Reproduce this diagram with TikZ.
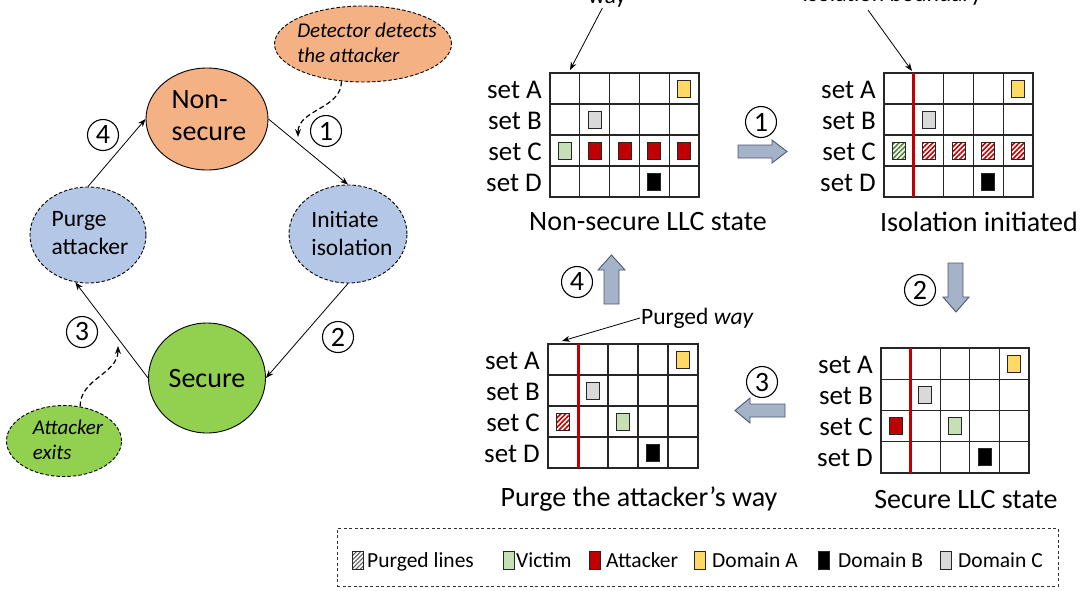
\documentclass[tikz,border=0pt]{standalone}
\usepackage{fontspec}
\setmainfont{Carlito}
\usetikzlibrary{shapes.geometric,arrows.meta,patterns.meta,calc}
\definecolor{nsorange}{HTML}{F4B183}
\definecolor{isoblue}{HTML}{B4C7E7}
\definecolor{secgreen}{HTML}{92D050}
\definecolor{victim}{HTML}{C5E0B4}
\definecolor{attack}{HTML}{C00000}
\definecolor{domA}{HTML}{FFD966}
\definecolor{domC}{HTML}{D9D9D9}
\definecolor{barrowfill}{HTML}{A5B3C9}
\definecolor{barrowline}{HTML}{4A5A75}
\definecolor{hatchgreen}{HTML}{548235}
\newcommand{\llcgrid}[5]{%
  \begin{scope}[shift={(#2,#3)}]
    \draw[gridline] (0,0) rectangle ({5*#4},{4*#5});
    \foreach \ci in {1,...,4} {\draw[gridline] ({\ci*#4},0) -- ({\ci*#4},{4*#5});}
    \foreach \ri in {1,2,3} {\draw[gridline] (0,{\ri*#5}) -- ({5*#4},{\ri*#5});}
    \foreach \sn [count=\ri] in {A,B,C,D} {\node[setlbl] (#1-set\sn) at (-8,{(\ri-0.5)*#5+1}) {set \sn};}
    \foreach \ci in {1,...,5} {\foreach \ri in {1,...,4} {\coordinate (#1-\ci-\ri) at ({(\ci-0.5)*#4},{(\ri-0.5)*#5});}}
    \coordinate (#1-rt) at (#4,0);
    \coordinate (#1-rb) at (#4,{4*#5});
  \end{scope}}
\begin{document}
\begin{tikzpicture}[x=1pt,y=-1pt,
  gridline/.style={draw=black!85,line width=1.1pt},
  setlbl/.style={anchor=east,inner sep=0pt,font=\fontsize{27}{30}\selectfont},
  captxt/.style={anchor=base,inner sep=0pt,font=\fontsize{28}{32}\selectfont},
  ann/.style={inner sep=1pt,font=\fontsize{23.5}{27}\selectfont},
  state/.style={ellipse,draw=black,line width=0.9pt,inner sep=0pt},
  dstate/.style={state,dash pattern=on 3.5pt off 2pt},
  bigtxt/.style={align=left,inner sep=0pt,font=\fontsize{28}{32}\selectfont},
  midtxt/.style={align=left,inner sep=0pt,font=\fontsize{23.5}{28}\selectfont},
  smalltxt/.style={align=left,inner sep=0pt,font=\fontsize{21}{25}\selectfont\itshape},
  num/.style={circle,draw=black,line width=1.1pt,minimum size=31pt,inner sep=0pt,font=\fontsize{28}{28}\selectfont},
  conn/.style={-{Stealth[length=8pt,width=6pt]},line width=0.8pt},
  hint/.style={conn,line width=1.2pt,dash pattern=on 5pt off 3pt},
  blk/.style={draw=black!85,line width=0.9pt,minimum width=13pt,minimum height=17pt,inner sep=0pt},
  blkV/.style={blk,fill=victim},
  blkX/.style={blk,fill=attack},
  blkA/.style={blk,fill=domA},
  blkB/.style={blk,fill=black},
  blkC/.style={blk,fill=domC},
  blkXh/.style={blk,pattern={Lines[angle=45,distance=3.4pt,line width=1.6pt]},pattern color=attack},
  blkVh/.style={blk,pattern={Lines[angle=45,distance=3.4pt,line width=1.6pt]},pattern color=hatchgreen},
  isoline/.style={draw=attack,line width=3pt},
  barrow/.style={fill=barrowfill,draw=barrowline,line width=0.9pt,line join=miter},
  legbox/.style={draw=black!80,dash pattern=on 3pt off 2.5pt,line width=0.8pt,inner sep=0pt},
  legblk/.style={draw=black!85,line width=0.9pt,minimum width=11pt,minimum height=18pt,inner sep=0pt},
  legtxt/.style={anchor=base west,inner sep=0pt,font=\fontsize{21.5}{24}\selectfont}
]
\useasboundingbox (0,0) rectangle (1083,590);
\clip (0,0) rectangle (1083,590);
\fill[white] (0,0) rectangle (1083,590);

% ---------- state machine ----------
\node[state,fill=nsorange,minimum width=122pt,minimum height=102pt] (ns) at (207,119) {};
\node[bigtxt] (ns-t) at (209,116) {Non-\\secure};
\node[dstate,fill=isoblue,minimum width=118pt,minimum height=98pt] (ii) at (348,234) {};
\node[midtxt] (ii-t) at (352,233) {Initiate\\isolation};
\node[dstate,fill=isoblue,minimum width=116pt,minimum height=96pt] (pa) at (88,235) {};
\node[midtxt] (pa-t) at (90,233) {Purge\\attacker};
\node[state,fill=secgreen,minimum width=117pt,minimum height=110pt] (sec) at (207,378) {};
\node[bigtxt] (sec-t) at (207,379) {Secure};
\node[dstate,fill=nsorange,minimum width=177pt,minimum height=76pt] (det) at (363,44) {};
\node[smalltxt] (det-t) at (367,43) {Detector detects\\the attacker};
\node[dstate,fill=secgreen,minimum width=115pt,minimum height=71pt] (ae) at (64,441) {};
\node[smalltxt] (ae-t) at (68,440) {Attacker\\exits};

\draw[conn] (ns.east) -- (ii.north);
\draw[conn] (ii.south) -- (sec.east);
\draw[conn] (sec.west) -- (pa.255);
\draw[conn] (pa.north) -- (ns.west);

\node[num] (n1) at (326,131) {1};
\node[num] (n2) at (338,337) {2};
\node[num] (n3) at (82,332) {3};
\node[num] (n4) at (103,135) {4};

\coordinate (d1end) at (298,137);
\draw[hint] (det.240) to[out=-90,in=90] (d1end);
\coordinate (d2end) at (118,346);
\draw[hint] (ae.65) to[out=90,in=-90] (d2end);

% ---------- LLC grids ----------
\llcgrid{g1}{550}{73}{29.8}{31}
\llcgrid{g2}{884}{73}{29.8}{31}
\llcgrid{g3}{548}{344}{30}{31}
\llcgrid{g4}{881}{348}{29.6}{31.25}

\draw[isoline] (g2-rt) -- (g2-rb);
\draw[isoline] (g3-rt) -- (g3-rb);
\draw[isoline] (g4-rt) -- (g4-rb);

% grid 1
\node[blkA] (g1-A5) at (g1-5-1) {};
\node[blkC] (g1-B2) at (g1-2-2) {};
\node[blkV] (g1-C1) at (g1-1-3) {};
\node[blkX] (g1-C2) at (g1-2-3) {};
\node[blkX] (g1-C3) at (g1-3-3) {};
\node[blkX] (g1-C4) at (g1-4-3) {};
\node[blkX] (g1-C5) at (g1-5-3) {};
\node[blkB] (g1-D4) at (g1-4-4) {};
% grid 2
\node[blkA] (g2-A5) at (g2-5-1) {};
\node[blkC] (g2-B2) at (g2-2-2) {};
\node[blkVh] (g2-C1) at (g2-1-3) {};
\node[blkXh] (g2-C2) at (g2-2-3) {};
\node[blkXh] (g2-C3) at (g2-3-3) {};
\node[blkXh] (g2-C4) at (g2-4-3) {};
\node[blkXh] (g2-C5) at (g2-5-3) {};
\node[blkB] (g2-D4) at (g2-4-4) {};
% grid 3
\node[blkA] (g3-A5) at (g3-5-1) {};
\node[blkC] (g3-B2) at (g3-2-2) {};
\node[blkXh] (g3-C1) at (g3-1-3) {};
\node[blkV] (g3-C3) at (g3-3-3) {};
\node[blkB] (g3-D4) at (g3-4-4) {};
% grid 4
\node[blkA] (g4-A5) at (g4-5-1) {};
\node[blkC] (g4-B2) at (g4-2-2) {};
\node[blkX] (g4-C1) at (g4-1-3) {};
\node[blkV] (g4-C3) at (g4-3-3) {};
\node[blkB] (g4-D4) at (g4-4-4) {};

% captions
\node[captxt] (cap1) at (648,230) {Non-secure LLC state};
\node[captxt] (cap2) at (979,231) {Isolation initiated};
\node[captxt] (cap3) at (639,506) {Purge the attacker’s way};
\node[captxt] (cap4) at (966,508) {Secure LLC state};

% annotations (cut by the top edge, as in the reference)
\node[ann,anchor=base] (wayl) at (607,3) {way};
\coordinate (wayend) at (570,70);
\draw[conn] (wayl) -- (wayend);
\node[ann,anchor=base] (ibl) at (892,1) {Isolation boundary};
\coordinate (ibend) at (912,71);
\draw[conn] ($(ibl.south)+(-24,4)$) -- (ibend);
\node[ann,anchor=west] (pwl) at (640,318) {Purged \textit{way}};
\coordinate (pwend) at (562,341);
\draw[conn] (pwl.west) -- (pwend);

% block arrows
\draw[barrow] (738,145) -- (772,145) -- (772,140) -- (787,151.5) -- (772,163) -- (772,158) -- (738,158) -- cycle;
\draw[barrow] (948,263) -- (963,263) -- (963,297) -- (969,297) -- (956,312) -- (943,297) -- (948,297) -- cycle;
\draw[barrow] (785,404) -- (750,404) -- (750,398) -- (735,410.5) -- (750,423) -- (750,417) -- (785,417) -- cycle;
\draw[barrow] (604,304) -- (604,270) -- (598,270) -- (611.5,255) -- (625,270) -- (619,270) -- (619,304) -- cycle;
\node[num] (m1) at (761,122) {1};
\node[num] (m2) at (920,290) {2};
\node[num] (m3) at (762,382) {3};
\node[num] (m4) at (577,282) {4};

% legend
\node[legbox,minimum width=721pt,minimum height=58pt] (legend) at (697.5,557) {};
\node[legblk,pattern={Lines[angle=45,distance=3pt,line width=1pt]},pattern color=black!65] (lg-p) at (357.5,560) {};
\node[legtxt] (lg-pt) at (367,567) {Purged lines};
\node[legblk,fill=victim] (lg-v) at (508.5,560) {};
\node[legtxt] (lg-vt) at (516,567) {Victim};
\node[legblk,fill=attack] (lg-x) at (595,560) {};
\node[legtxt] (lg-xt) at (606,567) {Attacker};
\node[legblk,fill=domA] (lg-a) at (699.5,560) {};
\node[legtxt] (lg-at) at (712,567) {Domain A};
\node[legblk,fill=black] (lg-b) at (824,560) {};
\node[legtxt] (lg-bt) at (838,567) {Domain B};
\node[legblk,fill=domC] (lg-c) at (945.5,560) {};
\node[legtxt] (lg-ct) at (958,567) {Domain C};
\end{tikzpicture}
\end{document}
